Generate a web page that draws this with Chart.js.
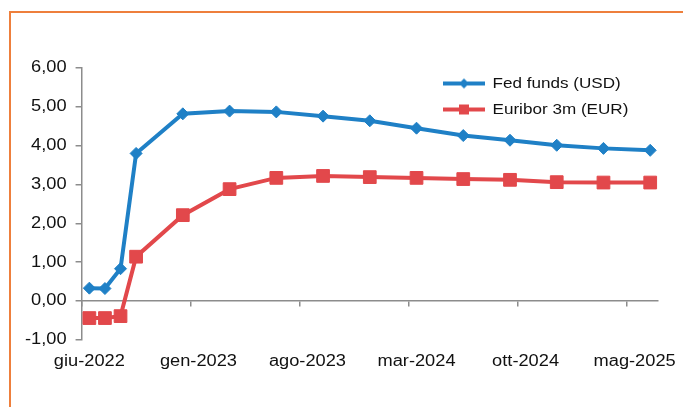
<!DOCTYPE html>
<html>
<head>
<meta charset="utf-8">
<script src="https://cdn.jsdelivr.net/npm/chart.js@4/dist/chart.umd.min.js"></script>
<style>
  html, body { margin: 0; padding: 0; background: #ffffff; }
  #wrap { position: relative; width: 683px; height: 407px; overflow: hidden; }
  #frame { position: absolute; left: 9px; top: 11px; right: -10px; bottom: -10px;
           border-left: 2px solid #EE7F3C; border-top: 2px solid #EE7F3C; }
  canvas { position: absolute; left: 0; top: 0; }
</style>
</head>
<body>
<div id="wrap">
  <div id="frame"></div>
  <canvas id="c" width="683" height="407"></canvas>
</div>
<script>
// ---- data ----
const months = [
  'giu-2022','lug-2022','ago-2022','set-2022','ott-2022','nov-2022','dic-2022',
  'gen-2023','feb-2023','mar-2023','apr-2023','mag-2023','giu-2023','lug-2023',
  'ago-2023','set-2023','ott-2023','nov-2023','dic-2023','gen-2024','feb-2024',
  'mar-2024','apr-2024','mag-2024','giu-2024','lug-2024','ago-2024','set-2024',
  'ott-2024','nov-2024','dic-2024','gen-2025','feb-2025','mar-2025','apr-2025',
  'mag-2025','giu-2025'
];
const obsMonths = [
  'giu-2022','lug-2022','ago-2022','set-2022','dic-2022','mar-2023','giu-2023',
  'set-2023','dic-2023','mar-2024','giu-2024','set-2024','dic-2024','mar-2025','giu-2025'
];
const fedFunds = [0.33, 0.32, 0.83, 3.80, 4.82, 4.89, 4.87, 4.76, 4.64, 4.45, 4.26, 4.14, 4.01, 3.93, 3.88];
const euribor3m = [-0.44, -0.44, -0.39, 1.14, 2.21, 2.88, 3.17, 3.22, 3.19, 3.17, 3.14, 3.12, 3.06, 3.05, 3.05];
const seriesNames = ['Fed funds (USD)', 'Euribor 3m (EUR)'];
const yTicks = { min: -1, max: 6, step: 1 };
const labelEvery = 7;

// ---- styles ----
const BLUE = '#1F80C6';
const RED = '#E2484B';
const AXIS = '#8C8C8C';
const TEXT = '#111111';
const TEXT_STRETCH = 1.14;

Chart.defaults.font.family = "'Liberation Sans', Arial, sans-serif";
Chart.defaults.color = TEXT;

const canvas = document.getElementById('c');
const ctx = canvas.getContext('2d');
// the reference uses horizontally widened lettering
const origFill = ctx.fillText.bind(ctx);
const origMeasure = ctx.measureText.bind(ctx);
ctx.fillText = function (t, x, y, mw) {
  ctx.save();
  ctx.translate(x, y);
  ctx.scale(TEXT_STRETCH, 1);
  if (mw !== undefined && mw !== null) origFill(t, 0, 0, mw / TEXT_STRETCH);
  else origFill(t, 0, 0);
  ctx.restore();
};
ctx.measureText = function (t) {
  const m = origMeasure(t);
  return {
    width: m.width * TEXT_STRETCH,
    actualBoundingBoxAscent: m.actualBoundingBoxAscent,
    actualBoundingBoxDescent: m.actualBoundingBoxDescent,
    actualBoundingBoxLeft: m.actualBoundingBoxLeft * TEXT_STRETCH,
    actualBoundingBoxRight: m.actualBoundingBoxRight * TEXT_STRETCH,
    fontBoundingBoxAscent: m.fontBoundingBoxAscent,
    fontBoundingBoxDescent: m.fontBoundingBoxDescent
  };
};

function legendSwatch(color, kind) {
  const c = document.createElement('canvas');
  c.width = 42; c.height = 14;
  const g = c.getContext('2d');
  g.strokeStyle = color; g.lineWidth = 4;
  g.beginPath(); g.moveTo(0, 7); g.lineTo(42, 7); g.stroke();
  g.fillStyle = color;
  if (kind === 'diamond') {
    g.beginPath(); g.moveTo(21, 2); g.lineTo(26, 7); g.lineTo(21, 12); g.lineTo(16, 7); g.closePath(); g.fill();
  } else {
    g.fillRect(16, 2, 10, 10);
  }
  return c;
}
const swatches = [legendSwatch(BLUE, 'diamond'), legendSwatch(RED, 'square')];

const toPoints = (vals) => obsMonths.map((m, i) => ({ x: m, y: vals[i] }));

const legendPlacer = {
  id: 'legendPlacer',
  afterLayout(chart) {
    const l = chart.legend;
    if (!l) return;
    const w = l.width, h = l.height;
    l.left = 432; l.right = 432 + w;
    l.top = 65; l.bottom = 65 + h;
  }
};

new Chart(canvas, {
  type: 'line',
  data: {
    labels: months,
    datasets: [
      {
        label: seriesNames[0],
        data: toPoints(fedFunds),
        borderColor: BLUE, backgroundColor: BLUE,
        borderWidth: 4, tension: 0,
        pointStyle: 'rectRot', pointRadius: 6, pointBorderWidth: 1,
        pointBackgroundColor: BLUE, pointBorderColor: BLUE
      },
      {
        label: seriesNames[1],
        data: toPoints(euribor3m),
        borderColor: RED, backgroundColor: RED,
        borderWidth: 4, tension: 0,
        pointStyle: 'rect', pointRadius: 9, pointBorderWidth: 1,
        pointBackgroundColor: RED, pointBorderColor: RED
      }
    ]
  },
  options: {
    responsive: false,
    animation: false,
    events: [],
    layout: { padding: { top: 68, left: 16, right: 25, bottom: 24 } },
    plugins: {
      tooltip: { enabled: false },
      legend: {
        position: 'chartArea',
        align: 'start',
        labels: {
          font: { size: 15 },
          color: TEXT,
          usePointStyle: true,
          pointStyleWidth: 42,
          padding: 11,
          generateLabels(chart) {
            return chart.data.datasets.map((ds, i) => ({
              text: ds.label,
              pointStyle: swatches[i],
              fillStyle: ds.borderColor,
              strokeStyle: ds.borderColor,
              lineWidth: 0,
              hidden: false,
              datasetIndex: i,
              fontColor: TEXT
            }));
          }
        }
      }
    },
    scales: {
      x: {
        type: 'category',
        offset: true,
        border: { display: false },
        grid: { display: false, drawTicks: false },
        ticks: {
          autoSkip: false, maxRotation: 0, padding: 12,
          font: { size: 16 }, color: TEXT,
          callback(val, index) { return index % labelEvery === 0 ? this.getLabelForValue(val) : ''; }
        }
      },
      x2: {
        type: 'category',
        position: { y: 0 },
        offset: true,
        border: { display: true, color: AXIS, width: 1.5 },
        grid: {
          offset: true, drawOnChartArea: false, drawTicks: true, tickLength: 5, lineWidth: 1.5,
          color: (c) => (c.index % labelEvery === 0 ? AXIS : 'rgba(0,0,0,0)')
        },
        ticks: { display: false },
        afterFit(s) { s.height = 0; }
      },
      y: {
        min: yTicks.min, max: yTicks.max,
        border: { display: true, color: AXIS, width: 1.5 },
        grid: { drawOnChartArea: false, drawTicks: true, tickLength: 6, color: AXIS, lineWidth: 1.5 },
        ticks: {
          stepSize: yTicks.step, padding: 9, font: { size: 16 }, color: TEXT,
          callback: (v) => v.toFixed(2).replace('.', ',')
        }
      }
    }
  },
  plugins: [legendPlacer]
});
</script>
</body>
</html>
